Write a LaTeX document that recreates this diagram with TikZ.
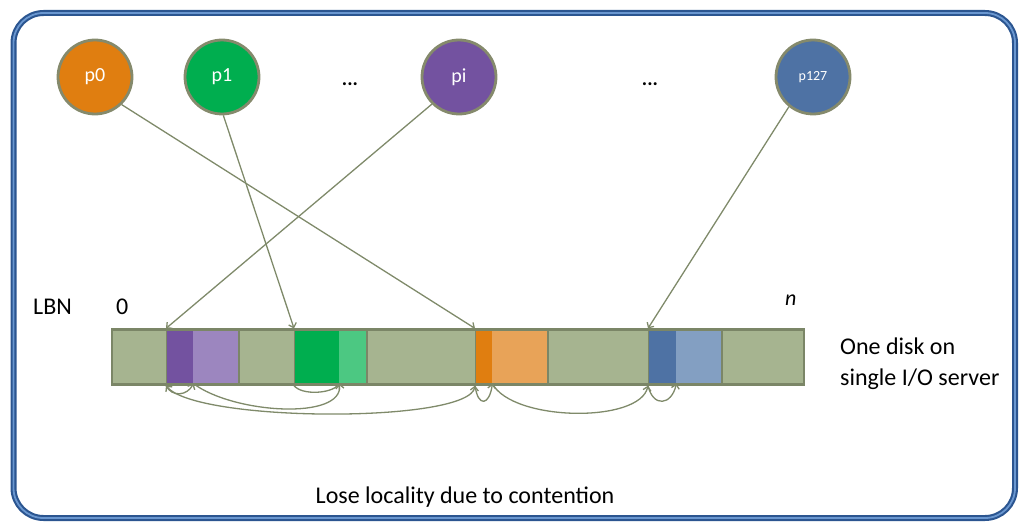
\documentclass[tikz,border=0pt]{standalone}
\usepackage{fontspec}
\setmainfont{Carlito}
\usetikzlibrary{arrows.meta}

\definecolor{frameDark}{HTML}{2B5590}
\definecolor{frameLight}{HTML}{6A97D0}
\definecolor{circLine}{HTML}{858A6C}
\definecolor{barFill}{HTML}{A6B490}
\definecolor{barLine}{HTML}{7B8667}
\definecolor{linkCol}{HTML}{7F8A6A}
\definecolor{purpD}{HTML}{7352A0}
\definecolor{purpL}{HTML}{9C86BF}
\definecolor{greenD}{HTML}{00AE4F}
\definecolor{greenL}{HTML}{4CC882}
\definecolor{orangeD}{HTML}{E07E10}
\definecolor{orangeL}{HTML}{E8A358}
\definecolor{blueD}{HTML}{4E72A4}
\definecolor{blueL}{HTML}{839FC2}

\begin{document}
\begin{tikzpicture}[x=1pt,y=-1pt,
  proc/.style={circle, draw=circLine, line width=2.8pt, minimum size=74pt,
    inner sep=0pt, text=white, font=\fontsize{20}{24}\selectfont},
  blk/.style={draw=barLine, line width=2.2pt, minimum height=55pt,
    inner sep=0pt, anchor=west},
  part/.style={minimum height=52.8pt, inner sep=0pt, anchor=west},
  link/.style={draw=linkCol, line width=1.3pt,
    -{Straight Barb[length=4pt,width=8pt]}},
  lbl/.style={font=\fontsize{24}{28}\selectfont, inner sep=0pt}]
\useasboundingbox (0,0) rectangle (1019,524);

% outer frame
\draw[frameDark, line width=6pt, rounded corners=30pt]
  (13.5,13) rectangle (1015,518);
\draw[frameLight, line width=1.8pt, rounded corners=30pt]
  (13.5,13) rectangle (1015,518);

% processes
\node[proc, fill=orangeD] (p0) at (95,77) {p0};
\node[proc, fill=greenD] (p1) at (222,77) {p1};
\node[proc, fill=purpD] (pi) at (459,77) {pi};
\node[proc, fill=blueD, font=\fontsize{14}{16}\selectfont] (p127) at (813,77) {p127};
\node[inner sep=0pt, anchor=base, font=\fontsize{20}{24}\selectfont\bfseries] (dots1) at (350,86) {...};
\node[inner sep=0pt, anchor=base, font=\fontsize{20}{24}\selectfont\bfseries] (dots2) at (650,86) {...};

% disk blocks
\node[blk, fill=barFill, minimum width=55pt] (b0) at (111,357) {};
\node[blk, fill=purpL,   minimum width=72pt] (b1) at (166,357) {};
\node[blk, fill=barFill, minimum width=56pt] (b2) at (238,357) {};
\node[blk, fill=greenL,  minimum width=72pt] (b3) at (294,357) {};
\node[blk, fill=barFill, minimum width=109pt] (b4) at (366,357) {};
\node[blk, fill=orangeL, minimum width=72pt] (b5) at (475,357) {};
\node[blk, fill=barFill, minimum width=101pt] (b6) at (547,357) {};
\node[blk, fill=blueL,   minimum width=73pt] (b7) at (648,357) {};
\node[blk, fill=barFill, minimum width=82pt] (b8) at (721,357) {};

% first part of each coloured block
\node[part, fill=purpD,   minimum width=25.9pt] (d1) at (167.1,357) {};
\node[part, fill=greenD,  minimum width=43.9pt] (d3) at (295.1,357) {};
\node[part, fill=orangeD, minimum width=15.9pt] (d5) at (476.1,357) {};
\node[part, fill=blueD,   minimum width=26.9pt] (d7) at (649.1,357) {};

% labels
\node[lbl, anchor=base west] (lbn) at (33,314) {LBN};
\node[lbl, anchor=base west] (zero) at (116,314) {0};
\node[lbl, anchor=base west, font=\fontsize{22}{26}\selectfont\itshape] (nn) at (785,305) {n};
\node[lbl, anchor=base west, align=left] (disk) at (840,354) {One disk on};
\node[lbl, anchor=base west, align=left] (srv) at (840,385) {single I/O server};
\node[lbl, anchor=base] (cap) at (465,503) {Lose locality due to contention};

% requests from processes
\draw[link] (p0.-46) -- (b5.north west);
\draw[link] (p1.-88) -- (b3.north west);
\draw[link] (pi.-135) -- (b1.north west);
\draw[link] (p127.-129) -- (b7.north west);

% head movements along the disk
\draw[link] (b1.south west) .. controls +(6,12) and +(-6,12) .. (d1.south east);
\draw[link] (d1.south east) .. controls +(40,30) and +(4,37) .. (d3.south east);
\draw[link] (b3.south west) .. controls +(8,10) and +(-8,10) .. (d3.south east);
\draw[link, {Straight Barb[length=4pt,width=8pt]}-{Straight Barb[length=4pt,width=8pt]}]
  (b1.south west) .. controls +(30,37) and +(-5,38) .. (b5.south west);
\draw[link] (b5.south west) .. controls +(3,22) and +(-3,22) .. (d5.south east);
\draw[link] (d5.south east) .. controls +(20,38) and +(-8,38) .. (b7.south west);
\draw[link] (b7.south west) .. controls +(5,22) and +(-5,22) .. (d7.south east);
\end{tikzpicture}
\end{document}
